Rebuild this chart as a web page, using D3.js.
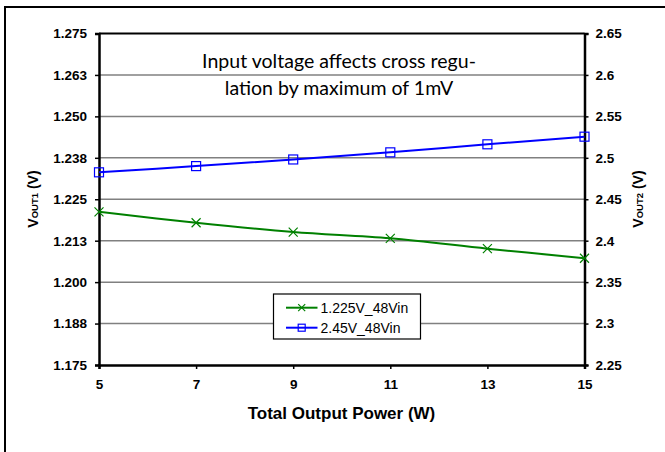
<!DOCTYPE html>
<html><head><meta charset="utf-8">
<script src="https://cdn.jsdelivr.net/npm/d3@7"></script>
<style>body{margin:0;background:#fff}svg{display:block}</style>
</head><body>
<script>
const power = [5, 7, 9, 11, 13, 15];
const vout1 = [1.2212, 1.2179, 1.2151, 1.2132, 1.2101, 1.2072];
const vout2 = [2.4825, 2.4900, 2.4980, 2.5066, 2.5163, 2.5255];
const leftTicks = [1.175, 1.1875, 1.2, 1.2125, 1.225, 1.2375, 1.25, 1.2625, 1.275];
const leftTickLabels = ["1.175","1.188","1.200","1.213","1.225","1.238","1.250","1.263","1.275"];
const rightTicks = [2.25, 2.3, 2.35, 2.4, 2.45, 2.5, 2.55, 2.6, 2.65];
const rightTickLabels = ["2.25","2.3","2.35","2.4","2.45","2.5","2.55","2.6","2.65"];
const xTicks = [5, 7, 9, 11, 13, 15];
const seriesNames = ["1.225V_48Vin", "2.45V_48Vin"];
const noteLines = ["Input voltage affects cross regu-", "lation by maximum of 1mV"];

const W = 665, H = 452;
const m = {l: 99, t: 33.5, r: 584.5, b: 365};
const svg = d3.select("body").append("svg").attr("width", W).attr("height", H);

// outer frame
svg.append("rect").attr("x", 5).attr("y", 7).attr("width", 700).attr("height", 500)
  .attr("fill", "none").attr("stroke", "#000").attr("stroke-width", 2);

const x = d3.scaleLinear().domain([5, 15]).range([m.l, m.r]);
const yL = d3.scaleLinear().domain([1.175, 1.275]).range([m.b, m.t]);
const yR = d3.scaleLinear().domain([2.25, 2.65]).range([m.b, m.t]);

// gridlines
svg.append("g").selectAll("line").data(leftTicks.slice(1, -1)).join("line")
  .attr("x1", m.l).attr("x2", m.r).attr("y1", d => yL(d)).attr("y2", d => yL(d))
  .attr("stroke", "#808080").attr("stroke-width", 1.5);

// plot border top
svg.append("line").attr("x1", m.l).attr("x2", m.r).attr("y1", m.t).attr("y2", m.t).attr("stroke", "#000").attr("stroke-width", 2);

const tickFont = "Liberation Sans, Arial, sans-serif";

const gL = svg.append("g").attr("transform", `translate(${m.l},0)`)
  .call(d3.axisLeft(yL).tickValues(leftTicks).tickFormat((d, i) => leftTickLabels[i]).tickSize(4).tickPadding(8));
const gR = svg.append("g").attr("transform", `translate(${m.r},0)`)
  .call(d3.axisRight(yR).tickValues(rightTicks).tickFormat((d, i) => rightTickLabels[i]).tickSize(4).tickPadding(7));
const gB = svg.append("g").attr("transform", `translate(0,${m.b})`)
  .call(d3.axisBottom(x).tickValues(xTicks).tickFormat(d3.format("d")).tickSize(4).tickPadding(10));
[gL, gR, gB].forEach(g => {
  g.select(".domain").attr("stroke", "#000").attr("stroke-width", 2.5);
  g.selectAll(".tick line").attr("stroke", "#000").attr("stroke-width", 1.5);
  g.selectAll("text").attr("font-family", tickFont).attr("font-weight", "bold")
    .attr("font-size", 13.5).attr("fill", "#000");
});

// annotation (size fitted to the reference line width)
const note = svg.append("text").attr("font-family", "Lato, 'Open Sans', sans-serif")
  .attr("font-weight", 400).attr("font-size", 19).attr("text-anchor", "middle").attr("fill", "#000");
const spans = noteLines.map((t, i) => note.append("tspan").attr("x", 339).attr("y", 67.5 + i * 27.5).text(t));
const w0 = spans[0].node().getComputedTextLength();
if (w0 > 0) note.attr("font-size", 19 * 274 / w0);

// lines
const line1 = d3.line().x((d, i) => x(power[i])).y(d => yL(d)).curve(d3.curveCatmullRom);
const line2 = d3.line().x((d, i) => x(power[i])).y(d => yR(d)).curve(d3.curveCatmullRom);
svg.append("path").datum(vout1).attr("d", line1).attr("fill", "none").attr("stroke", "#008000").attr("stroke-width", 2);
svg.append("path").datum(vout2).attr("d", line2).attr("fill", "none").attr("stroke", "#0000ff").attr("stroke-width", 2);

function cross(g, cx, cy, s, col) {
  g.append("path").attr("d", `M${cx-s},${cy-s}L${cx+s},${cy+s}M${cx-s},${cy+s}L${cx+s},${cy-s}`)
    .attr("stroke", col).attr("stroke-width", 1.2).attr("fill", "none");
}
function square(g, cx, cy, s, col) {
  g.append("rect").attr("x", cx - s).attr("y", cy - s).attr("width", 2 * s).attr("height", 2 * s)
    .attr("fill", "none").attr("stroke", col).attr("stroke-width", 1.2);
}
const mk = svg.append("g");
vout1.forEach((v, i) => cross(mk, x(power[i]), yL(v), 4.5, "#008000"));
vout2.forEach((v, i) => square(mk, x(power[i]), yR(v), 4.5, "#0000ff"));

// legend
const lg = svg.append("g");
lg.append("rect").attr("x", 273.5).attr("y", 294).attr("width", 147).attr("height", 45)
  .attr("fill", "#fff").attr("stroke", "#000").attr("stroke-width", 1.2);
const lcol = ["#008000", "#0000ff"];
seriesNames.forEach((n, i) => {
  const yy = 307.7 + i * 20;
  lg.append("line").attr("x1", 286).attr("x2", 317.5).attr("y1", yy).attr("y2", yy)
    .attr("stroke", lcol[i]).attr("stroke-width", 2);
  if (i === 0) cross(lg, 301.7, yy, 3.5, lcol[i]); else square(lg, 301.7, yy, 3.5, lcol[i]);
  lg.append("text").attr("x", 320.5).attr("y", yy + 5).attr("font-family", tickFont)
    .attr("font-size", 14).attr("fill", "#000").text(n);
});

// axis titles
svg.append("text").attr("x", 341.5).attr("y", 419).attr("text-anchor", "middle")
  .attr("font-family", tickFont).attr("font-weight", "bold").attr("font-size", 17).text("Total Output Power (W)");

function vTitle(cx, sub) {
  const t = svg.append("text").attr("transform", `translate(${cx},199) rotate(-90)`)
    .attr("text-anchor", "middle").attr("font-family", tickFont).attr("font-weight", "bold")
    .attr("font-size", 14).attr("fill", "#000");
  t.append("tspan").text("V");
  t.append("tspan").attr("font-size", 9.5).text(sub);
  t.append("tspan").text(" (V)");
}
vTitle(38, "OUT1");
vTitle(643, "OUT2");
</script>
</body></html>
